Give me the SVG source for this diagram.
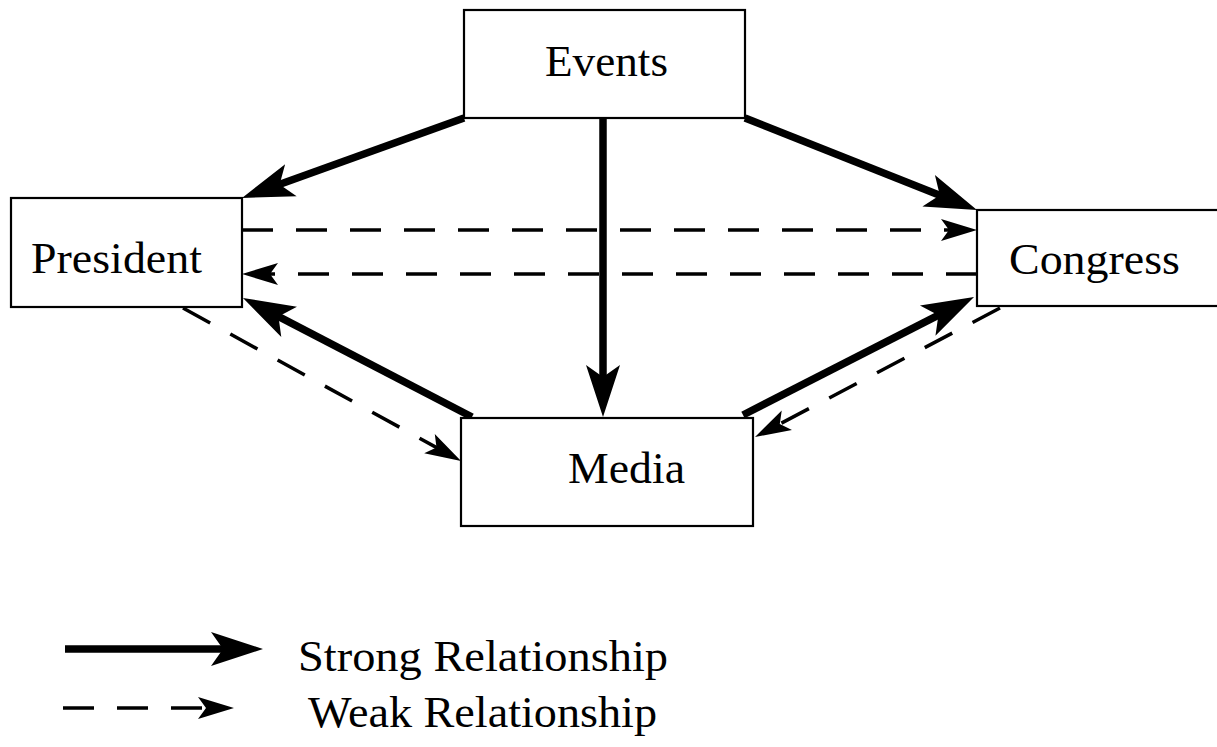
<svg xmlns="http://www.w3.org/2000/svg" width="1217" height="747" viewBox="0 0 1217 747">
<style>
.box{fill:#fff;stroke:#000;stroke-width:2.2}
.lbl{font-family:"Liberation Serif","Times New Roman",serif;font-size:45px;fill:#000}
.strong{stroke:#000;stroke-width:7.5;fill:none;marker-end:url(#headS)}
.weak{stroke:#000;stroke-width:3.5;fill:none;stroke-dasharray:31 23;marker-end:url(#headW)}
</style>
<defs>
<marker id="headS" markerUnits="userSpaceOnUse" viewBox="-24 -18 56 36" refX="0" refY="0" markerWidth="56" markerHeight="36" orient="auto">
<path d="M30,0 L-22,-17 L-10,0 L-22,17 Z" fill="#000"/>
</marker>
<marker id="headW" markerUnits="userSpaceOnUse" viewBox="-18 -12 40 24" refX="0" refY="0" markerWidth="40" markerHeight="24" orient="auto">
<path d="M20,0 L-16,-11 L-8,0 L-16,11 Z" fill="#000"/>
</marker>
</defs>
<rect width="1217" height="747" fill="#fff"/>
<g id="connectors">
<line class="strong" x1="464" y1="118" x2="270.2" y2="187.8"/>
<line class="strong" x1="745" y1="118" x2="949.1" y2="198.9"/>
<line class="strong" x1="603" y1="118" x2="603" y2="387"/>
<line class="strong" x1="472" y1="417" x2="269.6" y2="311.8"/>
<line class="strong" x1="743" y1="415" x2="947.3" y2="310.6"/>
<line class="weak" x1="242" y1="230" x2="957" y2="230"/>
<line class="weak" x1="977" y1="274" x2="262" y2="274"/>
<line class="weak" x1="183" y1="308" x2="443.5" y2="451.4"/>
<line class="weak" x1="1000" y1="308" x2="772.7" y2="427.7"/>
</g>
<g id="events">
<rect class="box" x="464" y="10" width="281" height="108"/>
<text class="lbl" x="545" y="76" textLength="123" lengthAdjust="spacingAndGlyphs">Events</text>
</g>
<g id="president">
<rect class="box" x="11" y="198" width="231" height="109"/>
<text class="lbl" x="31" y="273" textLength="171" lengthAdjust="spacingAndGlyphs">President</text>
</g>
<g id="congress">
<rect class="box" x="977" y="210" width="250" height="96"/>
<text class="lbl" x="1009" y="274" textLength="171" lengthAdjust="spacingAndGlyphs">Congress</text>
</g>
<g id="media">
<rect class="box" x="461" y="418" width="292" height="108"/>
<text class="lbl" x="568" y="483" textLength="117" lengthAdjust="spacingAndGlyphs">Media</text>
</g>
<g id="legend">
<line class="strong" x1="65" y1="649" x2="233" y2="649"/>
<text class="lbl" x="298" y="671" textLength="370" lengthAdjust="spacingAndGlyphs">Strong Relationship</text>
<line class="weak" x1="63" y1="708" x2="214" y2="708"/>
<text class="lbl" x="308" y="727" textLength="349" lengthAdjust="spacingAndGlyphs">Weak Relationship</text>
</g>
</svg>
